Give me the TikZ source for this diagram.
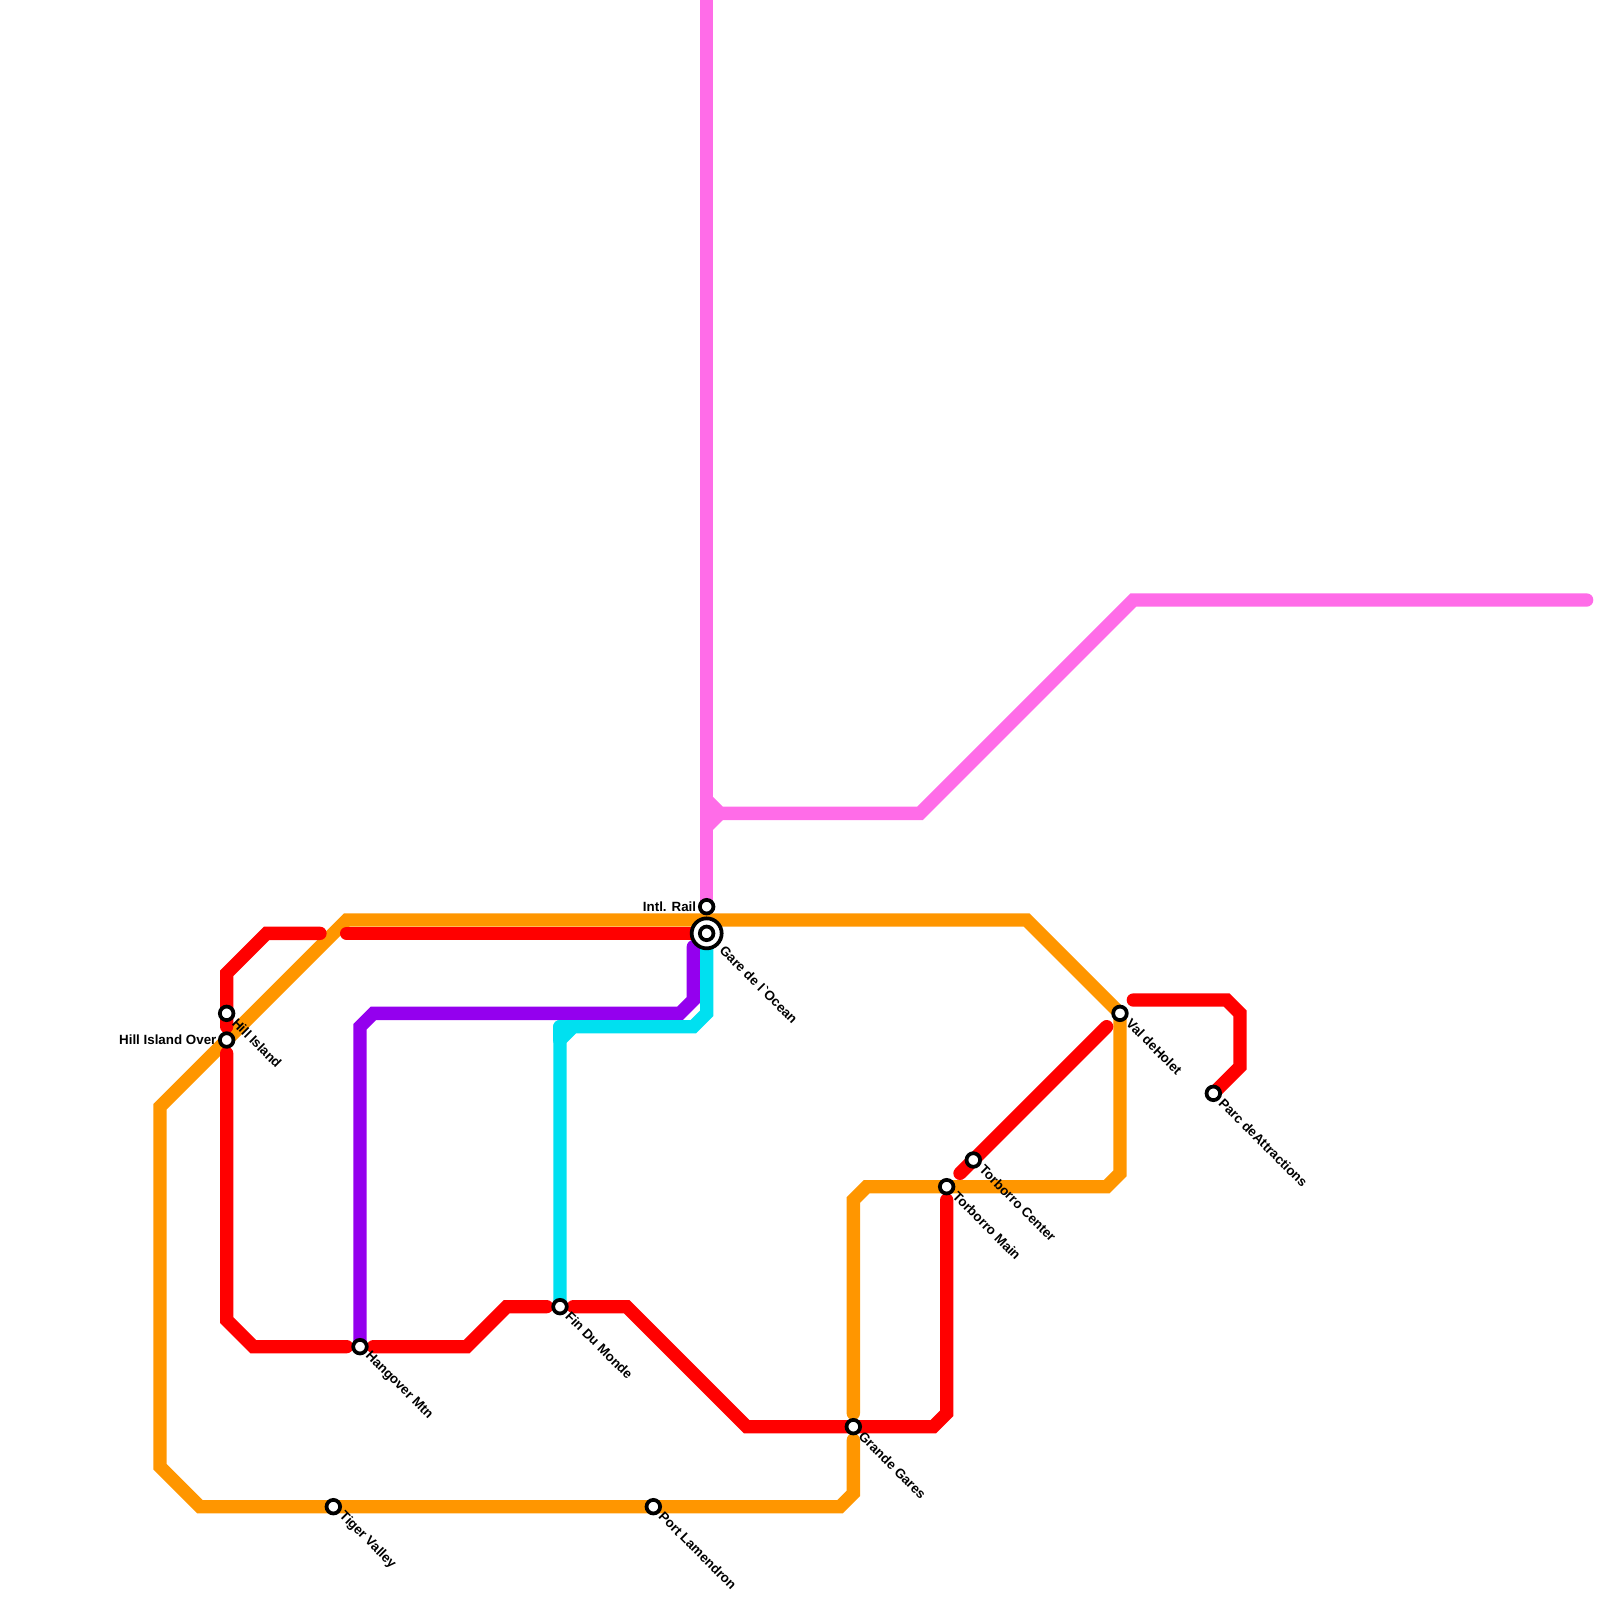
\documentclass[tikz,border=0pt]{standalone}
\usepackage{fontspec}
\setmainfont{Liberation Sans}
\usetikzlibrary{calc}
\tikzset{
  route/.style={line width=1mm, line cap=round, line join=miter},
  sta/.style={circle, draw=black, fill=white, line width=0.28mm, minimum size=1.02mm, inner sep=0pt},
  bigsta/.style={sta, minimum size=2.25mm},
  slab/.style={rotate=-45, anchor=west, inner sep=0pt, font=\fontsize{2.85}{3}\selectfont\bfseries},
  wlab/.style={anchor=east, inner sep=0pt, font=\fontsize{2.85}{3}\selectfont\bfseries}
}
\definecolor{pinkline}{RGB}{255,108,232}
\definecolor{orangeline}{RGB}{255,150,0}
\definecolor{redline}{RGB}{255,0,0}
\definecolor{purpleline}{RGB}{148,0,238}
\definecolor{cyanline}{RGB}{0,224,240}

\begin{document}
\begin{tikzpicture}[x=1mm, y=-1mm]
	\useasboundingbox (0,0) rectangle (120,120);
	% stations
	\coordinate (intl) at (53,68);
	\coordinate (gare) at (53,70);
	\coordinate (hill) at (17,76);
	\coordinate (hillover) at (17,78);
	\coordinate (hangover) at (27,101);
	\coordinate (fin) at (42,98);
	\coordinate (grande) at (64,107);
	\coordinate (port) at (49,113);
	\coordinate (tiger) at (25,113);
	\coordinate (tormain) at (71,89);
	\coordinate (torcen) at (73,87);
	\coordinate (val) at (84,76);
	\coordinate (parc) at (91,82);
	% free ends
	\coordinate (pinktop) at (53,-1);
	\coordinate (pinkfork) at (53,60);
	\coordinate (pinkend) at (119,45);
	\coordinate (reda) at (24,70);
	\coordinate (redb) at (17,77);
	\coordinate (redc) at (17,79);
	\coordinate (redd) at (26,101);
	\coordinate (rede) at (28,101);
	\coordinate (redf) at (41,98);
	\coordinate (redg) at (43,98);
	\coordinate (redh) at (71,90);
	\coordinate (redi) at (72,88);
	\coordinate (redj) at (83,77);
	\coordinate (redk) at (85,75);
	\coordinate (redl) at (26,70);
	\coordinate (redm) at (52,70);
	\coordinate (purpend) at (52,71);
	\coordinate (oraa) at (64,106);
	\coordinate (orab) at (64,108);

	\draw[route, pinkline] (pinktop) -- (intl);
	\draw[route, pinkline] (pinkfork) -- (54,61) -- (69,61) -- (85,45) -- (pinkend);
	\draw[route, pinkline] (53,62) -- (54,61);

	\draw[route, orangeline] (orab) -- (64,112) -- (63,113) -- (15,113) -- (12,110) -- (12,83) -- (26,69) -- (77,69) -- (val) -- (84,88) -- (83,89) -- (65,89) -- (64,90) -- (oraa);

	\draw[route, purpleline] (purpend) -- (52,75) -- (51,76) -- (28,76) -- (27,77) -- (hangover);
	\draw[route, cyanline] (53,71) -- (53,76) -- (52,77) -- (43,77) -- (42,78) -- (fin);
	\draw[route, cyanline] (42,77) -- (42,78);
	\draw[route, cyanline] (43,77) -- (42,77);

	\draw[route, redline] (reda) -- (20,70) -- (17,73) -- (redb);
	\draw[route, redline] (redc) -- (17,99) -- (19,101) -- (redd);
	\draw[route, redline] (rede) -- (35,101) -- (38,98) -- (redf);
	\draw[route, redline] (redg) -- (47,98) -- (56,107) -- (70,107) -- (71,106) -- (redh);
	\draw[route, redline] (redi) -- (redj);
	\draw[route, redline] (redk) -- (92,75) -- (93,76) -- (93,80) -- (parc);
	\draw[route, redline] (redl) -- (redm);

	\node[sta] (intlsta) at (intl) {};
	\node[bigsta] (garering) at (gare) {};
	\node[sta] (garesta) at (gare) {};
	\node[sta] (hillsta) at (hill) {};
	\node[sta] (hilloversta) at (hillover) {};
	\node[sta] (hangoversta) at (hangover) {};
	\node[sta] (finsta) at (fin) {};
	\node[sta] (grandesta) at (grande) {};
	\node[sta] (portsta) at (port) {};
	\node[sta] (tigersta) at (tiger) {};
	\node[sta] (tormainsta) at (tormain) {};
	\node[sta] (torcensta) at (torcen) {};
	\node[sta] (valsta) at (val) {};
	\node[sta] (parcsta) at (parc) {};

	\node[wlab] (intllab) at ($(intl)+(-0.72,0)$) {Intl. Rail};
	\node[wlab] (hilloverlab) at ($(hillover)+(-0.7,0)$) {Hill Island Over};
	\node[slab] (garelab) at ($(gare)+(1.12,1.05)$) {Gare de l\hspace{0.06em}\textasciigrave Ocean};
	\node[slab] (hilllab) at ($(hill)+(0.55,0.5)$) {Hill Island};
	\node[slab] (hangoverlab) at ($(hangover)+(0.5,0.5)$) {Hangover Mtn};
	\node[slab] (finlab) at ($(fin)+(0.55,0.5)$) {Fin Du Monde};
	\node[slab] (grandelab) at ($(grande)+(0.55,0.5)$) {Grande Gares};
	\node[slab] (portlab) at ($(port)+(0.55,0.5)$) {Port Lamendron};
	\node[slab] (tigerlab) at ($(tiger)+(0.55,0.5)$) {Tiger Valley};
	\node[slab] (tormainlab) at ($(tormain)+(0.6,0.5)$) {Torborro Main};
	\node[slab] (torcenlab) at ($(torcen)+(0.6,0.5)$) {Torborro Center};
	\node[slab] (vallab) at ($(val)+(0.6,0.55)$) {Val deHolet};
	\node[slab] (parclab) at ($(parc)+(0.55,0.5)$) {Parc deAttractions};
\end{tikzpicture}
\end{document}
